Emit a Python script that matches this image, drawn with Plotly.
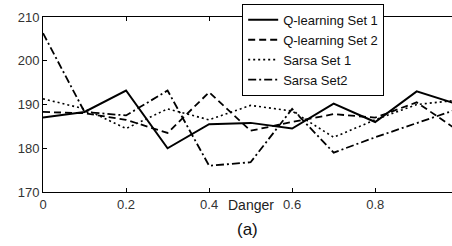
import plotly.graph_objects as go

danger = [0.0, 0.1, 0.2, 0.3, 0.4, 0.5, 0.6, 0.7, 0.8, 0.9, 1.0]
q_set1 = [187.0, 188.3, 193.2, 180.0, 185.5, 185.8, 184.5, 190.2, 186.0, 193.0, 190.0]
q_set2 = [188.3, 188.0, 186.5, 183.5, 192.8, 184.0, 186.0, 187.8, 187.0, 190.5, 184.0]
sarsa_set1 = [191.3, 189.0, 184.5, 189.0, 186.5, 189.8, 188.5, 182.5, 186.5, 190.0, 191.0]
sarsa_set2 = [206.3, 188.3, 187.5, 193.2, 176.0, 176.8, 189.0, 179.0, 182.5, 185.8, 189.0]

names = ["Q-learning Set 1", "Q-learning Set 2", "Sarsa Set 1", "Sarsa Set2"]
xticks = [0, 0.2, 0.4, 0.6, 0.8]
yticks = [170, 180, 190, 200, 210]

FONT = "Liberation Sans, Arial, Helvetica, sans-serif"

fig = go.Figure()
styles = [
    dict(dash="solid", width=2.0),
    dict(dash="7px,4px", width=1.8),
    dict(dash="2px,3px", width=1.6),
    dict(dash="8px,3px,2px,3px", width=1.8),
]
for name, ys, st in zip(names, [q_set1, q_set2, sarsa_set1, sarsa_set2], styles):
    fig.add_trace(go.Scatter(
        x=danger, y=ys, mode="lines", name=name,
        line=dict(color="black", width=st["width"], dash=st["dash"]),
    ))

fig.update_layout(
    width=452, height=246, autosize=False,
    margin=dict(l=43, r=0, t=17, b=54, autoexpand=False),
    paper_bgcolor="white", plot_bgcolor="white",
    font=dict(family=FONT, size=13, color="#222"),
    showlegend=True,
    legend=dict(
        x=0.487, y=1.075, xanchor="left", yanchor="top",
        bgcolor="white", bordercolor="black", borderwidth=1,
        font=dict(family=FONT, size=13, color="#111"),
        tracegroupgap=0, itemwidth=30,
    ),
    xaxis=dict(
        range=[0, 0.985], tickvals=xticks, ticktext=[f"{v:g}" for v in xticks],
        showgrid=False, zeroline=False, showline=True, linecolor="black", linewidth=1,
        mirror="ticks", ticks="inside", ticklen=4, tickcolor="black",
        tickfont=dict(size=13, color="#333"), automargin=False,
    ),
    yaxis=dict(
        range=[170, 210], tickvals=yticks,
        showgrid=False, zeroline=False, showline=True, linecolor="black", linewidth=1,
        mirror=False, ticks="inside", ticklen=4, tickcolor="black",
        tickfont=dict(size=13, color="#333"), automargin=False,
    ),
    annotations=[
        dict(text="Danger", x=0.5, xref="x", y=-0.074, yref="paper",
             xanchor="center", yanchor="middle", showarrow=False,
             font=dict(family=FONT, size=14, color="#222")),
        dict(text="(a)", x=0.501, xref="paper", y=-0.217, yref="paper",
             xanchor="center", yanchor="middle", showarrow=False,
             font=dict(family=FONT, size=17, color="#111")),
    ],
)

fig.write_html("out.html", config={"displayModeBar": False},
               post_script="document.body.style.margin='0';document.body.style.overflow='hidden';")
